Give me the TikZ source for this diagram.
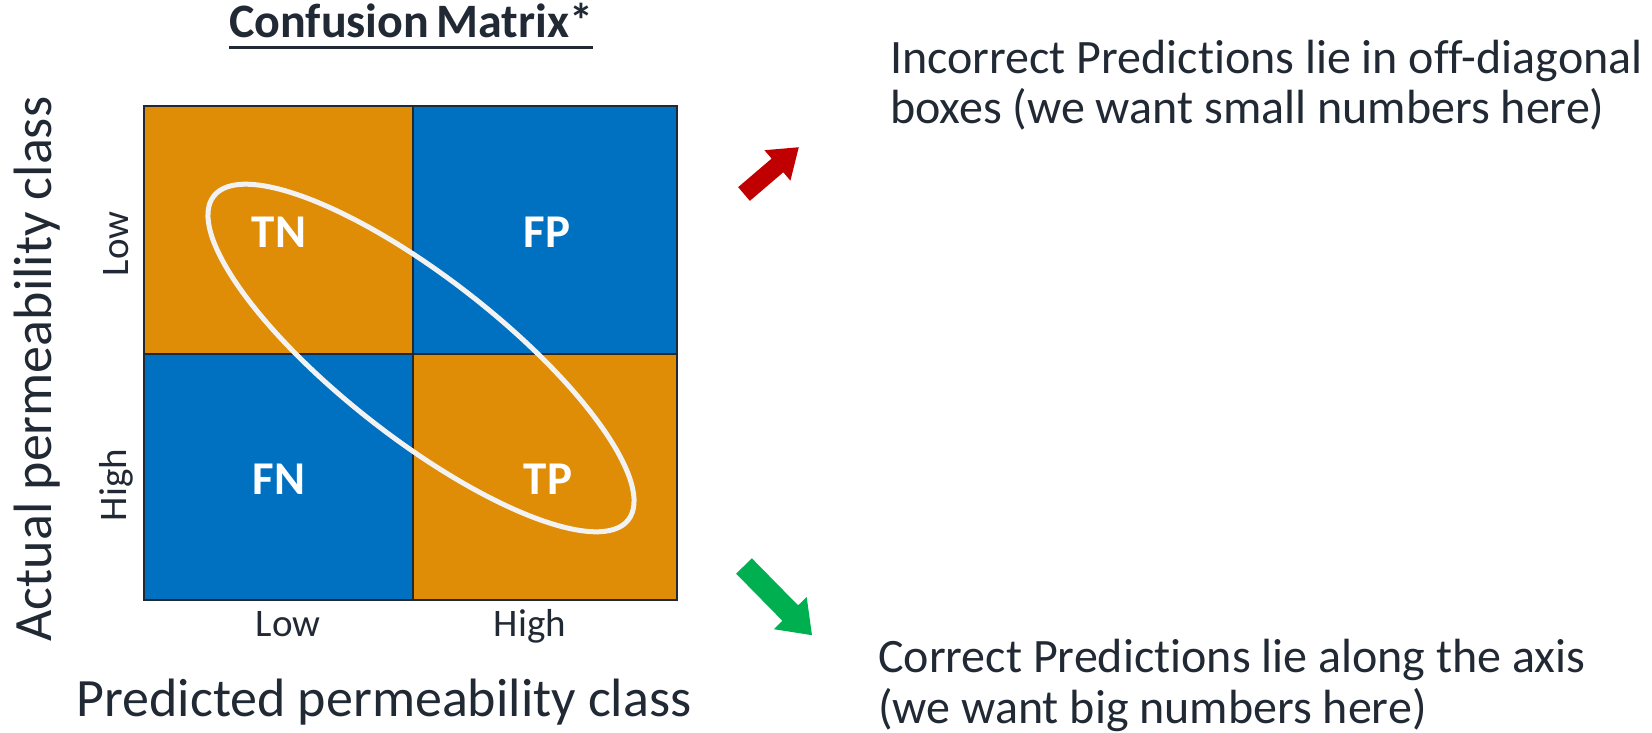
\documentclass[tikz,border=0pt]{standalone}
\usepackage{fontspec}
\setmainfont[Ligatures=NoCommon]{Carlito}
\usetikzlibrary{shapes.geometric}
\definecolor{cellorange}{RGB}{223,140,6}
\definecolor{cellblue}{RGB}{0,112,192}
\definecolor{inkdark}{RGB}{33,41,52}
\definecolor{ringwhite}{RGB}{242,242,242}
\definecolor{arrred}{RGB}{192,0,0}
\definecolor{arrgreen}{RGB}{0,176,80}
\tikzset{
  cell/.style={draw=inkdark, line width=2.5pt},
  celltext/.style={text=white, font=\fontsize{47}{56}\selectfont\bfseries, inner sep=0pt},
  ticklabel/.style={text=inkdark, font=\fontsize{39}{47}\selectfont, inner sep=0pt},
  axislabel/.style={text=inkdark, font=\fontsize{54}{64}\selectfont, inner sep=0pt},
  note/.style={text=inkdark, font=\fontsize{48}{58}\selectfont, inner sep=0pt, anchor=base west},
}
\begin{document}
\begin{tikzpicture}[x=1pt,y=-1pt]
\useasboundingbox (0,0) rectangle (1652,733);

% matrix cells
\fill[cellorange] (144,106) rectangle (413,354);
\fill[cellblue]   (413,106) rectangle (677,354);
\fill[cellblue]   (144,354) rectangle (413,600);
\fill[cellorange] (413,354) rectangle (677,600);
\draw[cell] (413,106) -- (413,600);
\draw[cell] (144,354) -- (677,354);
\draw[cell] (144,106) rectangle (677,600);

% cell labels
\node[celltext] (tn) at (279,232) {TN};
\node[celltext] (fp) at (547,232) {FP};
\node[celltext] (fn) at (279,479) {FN};
\node[celltext] (tp) at (548,479) {TP};

% diagonal highlight
\node[ellipse, draw=ringwhite, line width=5pt, minimum width=526pt, minimum height=160pt,
      inner sep=0pt, rotate=-38] (diag) at (421,358) {};

% title
\node[text=inkdark, font=\fontsize{48}{58}\selectfont\bfseries, inner sep=0pt, anchor=base] (title) at (411,38) {Confusion\kern-0.08em\ Matrix*};
\draw[inkdark, line width=3pt] ([yshift=-10pt]title.base west) -- ([yshift=-10pt]title.base east);

% axis tick labels
\node[ticklabel, rotate=90] (ylow) at (116,244) {Low};
\node[ticklabel, rotate=90] (yhigh) at (116,485) {High};
\node[ticklabel, anchor=base] (xlow) at (288,636) {Low};
\node[ticklabel, anchor=base] (xhigh) at (530,636) {High};

% axis titles
\node[axislabel, rotate=90] (ylabel) at (37,369) {Actual permeability class};
\node[axislabel, anchor=base] (xlabel) at (384,716) {Predicted permeability class};

% notes
\node[note] (wrong1) at (890,74) {Incorrect Predictions lie in off-diagonal};
\node[note] (wrong2) at (890,124) {boxes (we want small numbers here)};
\node[note] (right1) at (878,672) {Correct Predictions lie along the axis};
\node[note] (right2) at (878,723) {(we want big numbers here)};

% block arrows
\begin{scope}[shift={(744,194)}, rotate=40.5]
  \fill[arrred] (0,-9) -- (44,-9) -- (44,-20) -- (72,0) -- (44,20) -- (44,9) -- (0,9) -- cycle;
\end{scope}
\begin{scope}[shift={(744,566)}, rotate=-45.5]
  \fill[arrgreen] (0,-11) -- (66,-11) -- (66,-23) -- (97,0) -- (66,23) -- (66,11) -- (0,11) -- cycle;
\end{scope}
\end{tikzpicture}
\end{document}
